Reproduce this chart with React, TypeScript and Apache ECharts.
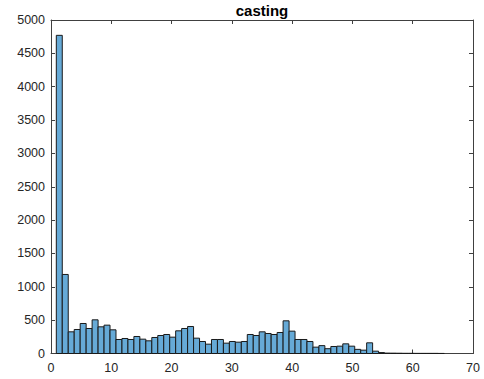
import React, { useEffect, useRef } from "react";
import * as echarts from "echarts";

const TITLE = "casting";
const BIN_START = 0.88;
const BIN_WIDTH = 0.99;
const COUNTS = [
  4770, 1185, 325, 360, 450, 375, 505, 400, 425, 355,
  210, 225, 210, 255, 215, 190, 240, 270, 285, 245,
  340, 375, 405, 230, 180, 140, 210, 210, 155, 180,
  170, 180, 285, 270, 325, 300, 285, 315, 490, 335,
  210, 210, 180, 95, 118, 72, 105, 110, 145, 110,
  62, 50, 160, 35, 14, 6, 5, 4, 3, 3,
  2, 2, 2, 2, 1,
];
const X_MIN = 0;
const X_MAX = 70;
const X_STEP = 10;
const Y_MIN = 0;
const Y_MAX = 5000;
const Y_STEP = 500;

export default function App() {
  const ref = useRef<HTMLDivElement>(null);
  useEffect(() => {
    if (!ref.current) return;
    const chart = echarts.init(ref.current, undefined, { renderer: "svg" });
    const data = COUNTS.map((c, i) => [
      BIN_START + i * BIN_WIDTH,
      BIN_START + (i + 1) * BIN_WIDTH,
      c,
    ]);
    const font = "'Liberation Sans', Arial, Helvetica, sans-serif";
    const axisColor = "#404040";
    const labelStyle = {
      color: "#262626",
      fontSize: 12.5,
      fontFamily: font,
      formatter: (v: number) => String(v),
    };
    const xCommon = {
      type: "value" as const,
      min: X_MIN,
      max: X_MAX,
      interval: X_STEP,
      splitLine: { show: false },
      axisLine: { show: true, onZero: false, lineStyle: { color: axisColor, width: 1 } },
      axisTick: { show: true, inside: true, length: 4, lineStyle: { color: axisColor } },
    };
    const yCommon = {
      type: "value" as const,
      min: Y_MIN,
      max: Y_MAX,
      interval: Y_STEP,
      splitLine: { show: false },
      axisLine: { show: true, onZero: false, lineStyle: { color: axisColor, width: 1 } },
      axisTick: { show: true, inside: true, length: 4, lineStyle: { color: axisColor } },
    };
    chart.setOption({
      animation: false,
      backgroundColor: "#ffffff",
      grid: { left: 51, right: 11, top: 20, bottom: 25.5, containLabel: false },
      graphic: [
        {
          type: "text",
          x: 262,
          y: 3,
          style: {
            text: TITLE,
            fontSize: 15,
            fontWeight: "bold",
            fontFamily: font,
            fill: "#000000",
            textAlign: "center",
            textVerticalAlign: "top",
          },
        },
      ],
      xAxis: [
        { ...xCommon, position: "bottom", axisLabel: { ...labelStyle, margin: 8 } },
        { ...xCommon, position: "top", axisLabel: { show: false } },
      ],
      yAxis: [
        { ...yCommon, position: "left", axisLabel: { ...labelStyle, margin: 6 } },
        { ...yCommon, position: "right", axisLabel: { show: false } },
      ],
      series: [
        {
          type: "custom",
          xAxisIndex: 0,
          yAxisIndex: 0,
          encode: { x: [0, 1], y: 2 },
          data,
          renderItem: (params: any, api: any) => {
            const p0 = api.coord([api.value(0), api.value(2)]);
            const p1 = api.coord([api.value(1), 0]);
            return {
              type: "rect",
              shape: { x: p0[0], y: p0[1], width: p1[0] - p0[0], height: p1[1] - p0[1] },
              style: { fill: "#66AAD7", stroke: "#1a1a1a", lineWidth: 1 },
            };
          },
        },
      ],
    });
    return () => chart.dispose();
  }, []);
  return (
    <div
      ref={ref}
      style={{ position: "absolute", left: 0, top: 0, width: 484, height: 379 }}
    />
  );
}
